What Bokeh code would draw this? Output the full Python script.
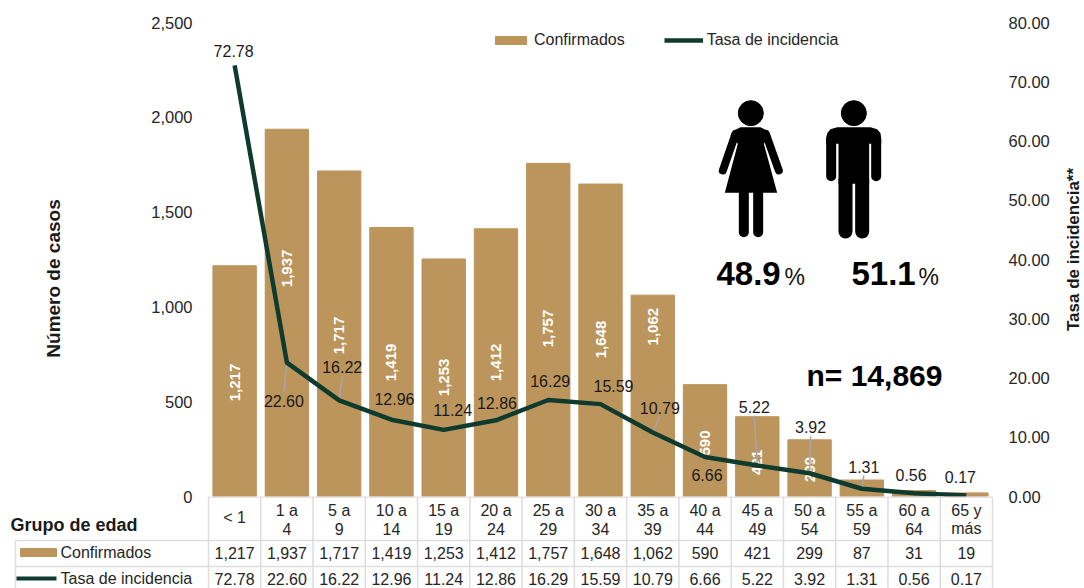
import numpy as np
from bokeh.plotting import figure
from bokeh.layouts import column
from bokeh.models import (Range1d, LinearAxis, FixedTicker, NumeralTickFormatter, Label,
                          Legend, LegendItem, ColumnDataSource)
from bokeh.core.properties import value
from bokeh.embed import file_html
from bokeh.resources import INLINE

age_groups = ["< 1", "1 a\n4", "5 a\n9", "10 a\n14", "15 a\n19", "20 a\n24", "25 a\n29", "30 a\n34",
              "35 a\n39", "40 a\n44", "45 a\n49", "50 a\n54", "55 a\n59", "60 a\n64", "65 y\nmás"]
confirmados = [1217, 1937, 1717, 1419, 1253, 1412, 1757, 1648, 1062, 590, 421, 299, 87, 31, 19]
tasa = [72.78, 22.60, 16.22, 12.96, 11.24, 12.86, 16.29, 15.59, 10.79, 6.66, 5.22, 3.92, 1.31, 0.56, 0.17]
left_ticks = [0, 500, 1000, 1500, 2000, 2500]
right_ticks = [0, 10, 20, 30, 40, 50, 60, 70, 80]

# label placement (pixels relative to the line point)
tasa_dx = [-1, -3, 3, 3, 9, 1, 2, 13, 7, 2, -3, 1, 2, -3, -6]
tasa_dy = [-14, 38, -33, -21, -20, -17, -19, -18, -25, 18, -59, -46, -22, -18, -18]
bar_label_y = [601, 1203, 849, 707, 628, 707, 886, 828, 896, 282, 180, 143, None, None, None]
leaders = [1, 2, 8, 10, 11, 12]

FONT = "Liberation Sans"
GOLD = "#BC955C"
DARK = "#0F3A2E"
TXT = "#262626"
GRID = "#DDDDDD"

LEFT, RIGHT, TOP, BOTTOM = 208, 992, 22, 496   # page pixels of the plot frame
EXTRA = 12
n = len(age_groups)
cx = np.arange(n) + 0.5
cell = (RIGHT - LEFT) / n

p = figure(width=1084, height=BOTTOM + EXTRA, output_backend="svg", toolbar_location=None,
           x_range=Range1d(0, n), y_range=Range1d(0, 2500),
           x_axis_location=None, y_axis_location="left", frame_align=False,
           min_border_left=LEFT, min_border_right=1084 - RIGHT,
           min_border_top=TOP, min_border_bottom=EXTRA, outline_line_color=None)
p.grid.visible = False
p.extra_y_ranges = {"rate": Range1d(0, 80), "py": Range1d(BOTTOM, TOP)}
p.extra_x_ranges = {"px": Range1d(LEFT, RIGHT)}


def style_axis(a):
    a.axis_line_color = None
    a.major_tick_line_color = None
    a.minor_tick_line_color = None
    a.major_label_standoff = 10
    a.major_label_text_font = FONT
    a.major_label_text_font_size = "16.5px"
    a.major_label_text_color = TXT


ax = p.yaxis[0]
ax.ticker = FixedTicker(ticks=left_ticks)
ax.formatter = NumeralTickFormatter(format="0,0")
style_axis(ax)

rax = LinearAxis(y_range_name="rate", ticker=FixedTicker(ticks=right_ticks),
                 formatter=NumeralTickFormatter(format="0.00"))
style_axis(rax)
p.add_layout(rax, "right")

bars = p.vbar(x=cx, top=confirmados, width=0.83, color=GOLD)

# white rotated bar values
bx = [c for c, y in zip(cx, bar_label_y) if y is not None]
by = [y for y in bar_label_y if y is not None]
bt = [f"{v:,}" for v, y in zip(confirmados, bar_label_y) if y is not None]
p.text(x=bx, y=by, text=bt, angle=np.pi / 2, text_align="center", text_baseline="middle",
       text_color="white", text_font=value(FONT), text_font_size="15px", text_font_style="bold")

# leader lines
pyv = [BOTTOM - (BOTTOM - TOP) * t / 80 for t in tasa]
pxv = [LEFT + cell * c for c in cx]
for i in leaders:
    sign = 1 if tasa_dy[i] > 0 else -1
    p.line([pxv[i], pxv[i] + tasa_dx[i]], [pyv[i], pyv[i] + tasa_dy[i] - sign * 9],
           x_range_name="px", y_range_name="py", line_color="#A6A6A6", line_width=1.5)

line = p.line(x=cx, y=tasa, y_range_name="rate", line_color=DARK, line_width=4.5, line_join="round")

src = ColumnDataSource(dict(x=cx, y=tasa, t=[f"{v:.2f}" for v in tasa], dx=tasa_dx, dy=tasa_dy))
p.text(x="x", y="y", text="t", x_offset="dx", y_offset="dy", y_range_name="rate", source=src,
       text_align="center", text_baseline="middle", text_color="#1a1a1a",
       text_font=value(FONT), text_font_size="16px")

legend = Legend(items=[LegendItem(label="Confirmados", renderers=[bars]),
                       LegendItem(label="Tasa de incidencia", renderers=[line])],
                orientation="horizontal", location=(283, 447), padding=0, margin=0, spacing=39,
                glyph_width=39, glyph_height=10, label_standoff=4, border_line_color=None,
                background_fill_alpha=0, label_text_font=FONT, label_text_font_size="16px",
                label_text_color=TXT, label_height=10)
p.add_layout(legend, "center")


def zx(v): return [680 + a / 3 for a in v]
def zy(v): return [80 + a / 3 for a in v]


def shape(xs, ys):
    p.patch(zx(xs), zy(ys), x_range_name="px", y_range_name="py", color="black", line_width=0)


def limb(xs, ys, w):
    p.line(zx(xs), zy(ys), x_range_name="px", y_range_name="py", line_color="black",
           line_width=w, line_cap="round")


def head(x, y, r):
    p.scatter(zx([x]), zy([y]), size=r * 2, x_range_name="px", y_range_name="py", color="black")


head(211, 98, 12.5)
shape([150, 165, 180, 240, 255, 270, 250, 290, 133, 172],
      [165, 148, 140, 140, 148, 165, 190, 337, 337, 190])
limb([165, 127], [160, 270], 8)
limb([256, 295], [160, 270], 8)
limb([190, 190], [330, 455], 10)
limb([233, 233], [330, 455], 10)

head(520, 98, 12.5)
shape([470, 570, 590, 600, 602, 602, 566, 566, 474, 474, 437, 437, 440, 450],
      [140, 140, 146, 158, 175, 190, 190, 310, 310, 190, 190, 175, 158, 146])
limb([452, 452], [175, 287], 10)
limb([587, 587], [175, 287], 10)
limb([495, 495], [300, 453], 14)
limb([545, 545], [300, 453], 14)


def page_label(fig, x, y, text, size, bold=False, align="left", color="black"):
    fig.add_layout(Label(x=x, y=y, text=text, x_range_name="px", y_range_name="py",
                         text_font=FONT, text_font_size=size, text_align=align,
                         text_baseline="middle", text_color=color,
                         text_font_style="bold" if bold else "normal"))


page_label(p, 716, 273, "48.9", "33px", True)
page_label(p, 784, 276, "%", "23px", False, color="#111111")
page_label(p, 851, 273, "51.1", "33px", True)
page_label(p, 918, 276, "%", "23px", False, color="#111111")
page_label(p, 806, 375, "n= 14,869", "30px", True)

# ---------- table under the chart ----------
TB = 588
ROW1, ROW2 = 540, 566
t = figure(width=1084, height=TB - BOTTOM, output_backend="svg", toolbar_location=None,
           x_range=Range1d(-LEFT / cell, (1084 - LEFT) / cell), y_range=Range1d(TB, BOTTOM),
           x_axis_location=None, y_axis_location=None, outline_line_color=None, frame_align=False,
           margin=(-EXTRA, 0, 0, 0), background_fill_alpha=0, border_fill_alpha=0,
           min_border=0, min_border_left=0, min_border_right=0, min_border_top=0, min_border_bottom=0)
t.grid.visible = False

tx0 = (15 - LEFT) / cell
edges = np.arange(n + 1)
t.segment(x0=edges, x1=edges, y0=[BOTTOM] * (n + 1), y1=[TB] * (n + 1), line_color=GRID, line_width=1.5)
t.segment(x0=[0], x1=[n], y0=[BOTTOM + 0.5], y1=[BOTTOM + 0.5], line_color=GRID, line_width=1.5)
t.segment(x0=[tx0, tx0], x1=[n, n], y0=[ROW1, ROW2], y1=[ROW1, ROW2], line_color=GRID, line_width=1.5)
t.segment(x0=[tx0], x1=[tx0], y0=[ROW1], y1=[TB], line_color=GRID, line_width=1.5)

top_l = [g.split("\n")[0] for g in age_groups]
bot_l = [g.split("\n")[1] if "\n" in g else "" for g in age_groups]
kw = dict(text_align="center", text_baseline="middle", text_color=TXT,
          text_font=value(FONT), text_font_size="16px")
t.text(x=cx, y=[517 if b == "" else 510 for b in bot_l], text=top_l, **kw)
t.text(x=cx, y=[528] * n, text=bot_l, **kw)
t.text(x=cx, y=[552] * n, text=[f"{v:,}" for v in confirmados], **kw)
t.text(x=cx, y=[578] * n, text=[f"{v:.2f}" for v in tasa], **kw)

lab = dict(text_align="left", text_baseline="middle", text_color=TXT,
           text_font=value(FONT), text_font_size="16px")
t.text(x=[(60 - LEFT) / cell], y=[552], text=["Confirmados"], **lab)
t.text(x=[(60 - LEFT) / cell], y=[578], text=["Tasa de incidencia"], **lab)
t.text(x=[(10 - LEFT) / cell], y=[524], text=["Grupo de edad"], text_align="left", text_baseline="middle",
       text_color="#1a1a1a", text_font=value(FONT), text_font_size="18px", text_font_style="bold")
t.quad(left=[(20 - LEFT) / cell], right=[(56 - LEFT) / cell], top=[548],
       bottom=[556], color=GOLD)
t.line(x=[(16 - LEFT) / cell, (56 - LEFT) / cell], y=[578, 578], line_color=DARK, line_width=4)

# ---------- transparent page-sized layer for the two axis titles ----------
o = figure(width=1084, height=TB, output_backend="svg", toolbar_location=None,
           x_range=Range1d(0, 1084), y_range=Range1d(TB, 0),
           x_axis_location=None, y_axis_location=None, outline_line_color=None, frame_align=False,
           margin=(-TB, 0, 0, 0), background_fill_alpha=0, border_fill_alpha=0,
           min_border=0, min_border_left=0, min_border_right=0, min_border_top=0, min_border_bottom=0)
o.grid.visible = False
title_kw = dict(angle=np.pi / 2, text_align="center", text_baseline="middle", text_color="#1a1a1a",
                text_font=value(FONT), text_font_style="bold")
o.text(x=[53], y=[278], text=["Número de casos"], text_font_size="19px", **title_kw)
o.text(x=[1073], y=[249], text=["Tasa de incidencia**"], text_font_size="17px", **title_kw)

page = column(p, t, o, spacing=0)
open("out.html", "w").write(file_html(page, INLINE))
